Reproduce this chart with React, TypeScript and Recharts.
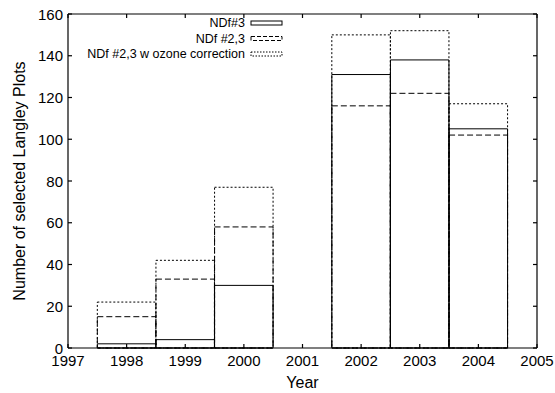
import React from 'react';
import { BarChart, Bar, XAxis, YAxis, Legend } from 'recharts';

const years = [1998, 1999, 2000, 2001, 2002, 2003, 2004];
const ndf3 = [2, 4, 30, 0, 131, 138, 105];
const ndf23 = [15, 33, 58, 0, 116, 122, 102];
const ndf23Ozone = [22, 42, 77, 0, 150, 152, 117];

const xTicks = [1997, 1998, 1999, 2000, 2001, 2002, 2003, 2004, 2005];
const yTicks = [0, 20, 40, 60, 80, 100, 120, 140, 160];

const seriesNames = ['NDf#3', 'NDf #2,3', 'NDf #2,3 w ozone correction'];
const sampleDash = [undefined, '4 2', '1.5 1.5'];

const data = years.map((year, i) => ({
    year,
    ndf3: ndf3[i],
    ndf23: ndf23[i],
    ndf23Ozone: ndf23Ozone[i],
}));

const FONT = '"Liberation Sans", Arial, Helvetica, sans-serif';
const BAR_SIZE = 58.5;
const TICK_LEN = 4;

// inward tick marks, gnuplot style
const BottomTick = ({ x, y, payload }: any) => (
    <g>
        <line x1={x} x2={x} y1={y} y2={y - TICK_LEN} stroke="#000" strokeWidth={1.2} />
        <text x={x} y={y + 18} textAnchor="middle" fontSize={15} fontFamily={FONT} fill="#000">
            {payload.value}
        </text>
    </g>
);
const LeftTick = ({ x, y, payload }: any) => (
    <g>
        <line x1={x} x2={x + TICK_LEN} y1={y} y2={y} stroke="#000" strokeWidth={1.2} />
        <text x={x - 5} y={y} textAnchor="end" dominantBaseline="central" fontSize={15}
            fontFamily={FONT} fill="#000">{payload.value}</text>
    </g>
);
const TopTick = ({ x, y }: any) => (
    <line x1={x} x2={x} y1={y} y2={y + TICK_LEN} stroke="#000" strokeWidth={1.2} />
);
const RightTick = ({ x, y }: any) => (
    <line x1={x} x2={x - TICK_LEN} y1={y} y2={y} stroke="#000" strokeWidth={1.2} />
);

const LegendBox = () => (
    <svg width={220} height={60} style={{ display: 'block' }}>
        {seriesNames.map((name, i) => {
            const cy = 9 + i * 15.5;
            return (
                <g key={name}>
                    <text x={165} y={cy} textAnchor="end" dominantBaseline="central"
                        fontSize={12.5} fontFamily={FONT} fill="#000">{name}</text>
                    <rect x={171} y={cy - 2} width={31} height={4} fill="none" stroke="#000"
                        strokeWidth={1} strokeDasharray={sampleDash[i]} />
                </g>
            );
        })}
    </svg>
);

export default function App() {
    const axisStroke = { stroke: '#000', strokeWidth: 1.2 };
    return (
        <div style={{ position: 'absolute', left: 0, top: 0 }}>
            <BarChart width={555} height={393} data={data}
                margin={{ top: 13, right: 17, left: 0, bottom: 0 }}>
                <XAxis xAxisId="x" dataKey="year" type="number" domain={[1997, 2005]} ticks={xTicks}
                    height={45} tickSize={0} tickMargin={0} axisLine={axisStroke} tickLine={false}
                    tick={<BottomTick />} interval={0}
                    label={({ viewBox }: any) => (
                        <text x={viewBox.x + viewBox.width / 2} y={388} textAnchor="middle"
                            fontSize={16} fontFamily={FONT} fill="#000">Year</text>
                    )} />
                <XAxis xAxisId="t" orientation="top" dataKey="year" type="number" domain={[1997, 2005]}
                    ticks={xTicks} height={1} tickSize={0} tickMargin={0} axisLine={axisStroke}
                    tickLine={false} tick={<TopTick />} interval={0} />
                <XAxis xAxisId="c" orientation="top" dataKey="year" type="number" domain={[1997, 2005]}
                    ticks={xTicks} height={0} hide />
                <YAxis yAxisId="l" type="number" domain={[0, 160]} ticks={yTicks} width={68}
                    tickSize={0} tickMargin={0} axisLine={axisStroke} tickLine={false} tick={<LeftTick />}
                    interval={0}
                    label={({ viewBox }: any) => (
                        <text x={19} y={viewBox.y + viewBox.height / 2} textAnchor="middle"
                            dominantBaseline="central" transform={`rotate(-90 19 ${viewBox.y + viewBox.height / 2})`}
                            fontSize={16} fontFamily={FONT} fill="#000">Number of selected Langley Plots</text>
                    )} />
                <YAxis yAxisId="r" orientation="right" type="number" domain={[0, 160]} ticks={yTicks} width={1}
                    tickSize={0} tickMargin={0} axisLine={axisStroke} tickLine={false} tick={<RightTick />}
                    interval={0} />
                <Legend layout="horizontal" verticalAlign="middle" align="center"
                    wrapperStyle={{ position: 'absolute', left: 80, top: 14, width: 220 }}
                    content={() => <LegendBox />} />
                <Bar xAxisId="c" yAxisId="r" dataKey="ndf23Ozone" name={seriesNames[2]} barSize={BAR_SIZE}
                    fill="none" stroke="#000" strokeWidth={1} strokeDasharray="2 2" isAnimationActive={false} />
                <Bar xAxisId="t" yAxisId="l" dataKey="ndf23" name={seriesNames[1]} barSize={BAR_SIZE}
                    fill="none" stroke="#000" strokeWidth={1} strokeDasharray="6 3" isAnimationActive={false} />
                <Bar xAxisId="x" yAxisId="l" dataKey="ndf3" name={seriesNames[0]} barSize={BAR_SIZE}
                    fill="none" stroke="#000" strokeWidth={1} isAnimationActive={false} />
            </BarChart>
        </div>
    );
}
